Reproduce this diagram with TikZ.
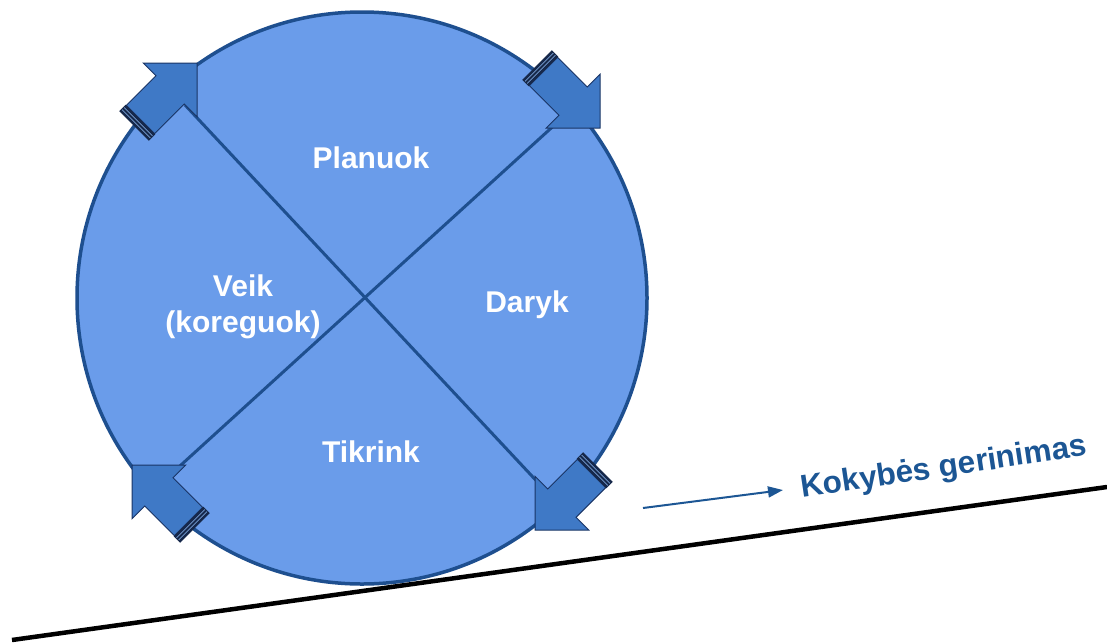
\documentclass[tikz,border=0pt]{standalone}
\usepackage{fontspec}
\setmainfont{Liberation Sans}
\usetikzlibrary{arrows.meta}
\definecolor{circfill}{HTML}{6A9CEA}
\definecolor{circdraw}{HTML}{1E4F8F}
\definecolor{arrfill}{HTML}{3F79C6}
\definecolor{arrdraw}{HTML}{1A3566}
\definecolor{navy}{HTML}{16284A}
\definecolor{labblue}{HTML}{1C5694}
\tikzset{
  x=1pt, y=-1pt,
  wheel/.style={fill=circfill, draw=circdraw, line width=3.5pt},
  diag/.style={draw=circdraw, line width=3pt},
  lab/.style={text=white, font=\fontsize{30}{36}\selectfont\bfseries, align=center, inner sep=0pt},
  blockarr/.pic={
    \filldraw[fill=arrfill, draw=arrdraw, line width=1pt, line join=miter]
      (0,0) -- (-38,38) -- (-38,20) -- (-80,20) -- (-80,-20) -- (-38,-20) -- (-38,-38) -- cycle;
    \fill[navy] (-89,-21) rectangle (-80,21);
    \draw[arrfill!70!white, line width=0.8pt] (-86,-20) -- (-86,20);
    \draw[arrfill!70!white, line width=0.6pt] (-83,-20) -- (-83,20);
  }
}
\begin{document}
\begin{tikzpicture}
\useasboundingbox (0,0) rectangle (1107,643);
% wheel
\path[wheel] (362,298) ellipse [x radius=285, y radius=286];
% arrow tips / chord ends
\coordinate (tl) at (185,105);
\coordinate (br) at (545,490);
\coordinate (tr) at (560,120);
\coordinate (bl) at (170,475);
\draw[diag] (tl) -- (br);
\draw[diag] (tr) -- (bl);
% block arrows
\pic[rotate=45] at (197,63) {blockarr};
\pic[rotate=-45] at (600,128) {blockarr};
\pic[rotate=-135] at (535,530) {blockarr};
\pic[rotate=135] at (132,465) {blockarr};
% labels
\node[lab, anchor=base] (plan) at (371,168) {Planuok};
\node[lab, anchor=base] (dar) at (527,312) {Daryk};
\node[lab, anchor=base] (tik) at (371,462) {Tikrink};
\node[lab, anchor=base] (veik1) at (243,296) {Veik};
\node[lab, anchor=base] (veik2) at (243,332) {(koreguok)};
% ground line
\coordinate (g1) at (12,640);
\coordinate (g2) at (1107,487);
\draw[line width=4.5pt, black] (g1) -- (g2);
% improvement arrow and label
\coordinate (a1) at (643,508);
\coordinate (a2) at (783,490);
\draw[labblue, line width=2pt, -{Triangle[length=15pt, width=11pt]}] (a1) -- (a2);
\node[text=labblue, font=\fontsize{31.5}{36}\selectfont\bfseries, rotate=8.5, anchor=base west, inner sep=0pt] (kok) at (802,498) {Kokybės gerinimas};
\end{tikzpicture}
\end{document}
